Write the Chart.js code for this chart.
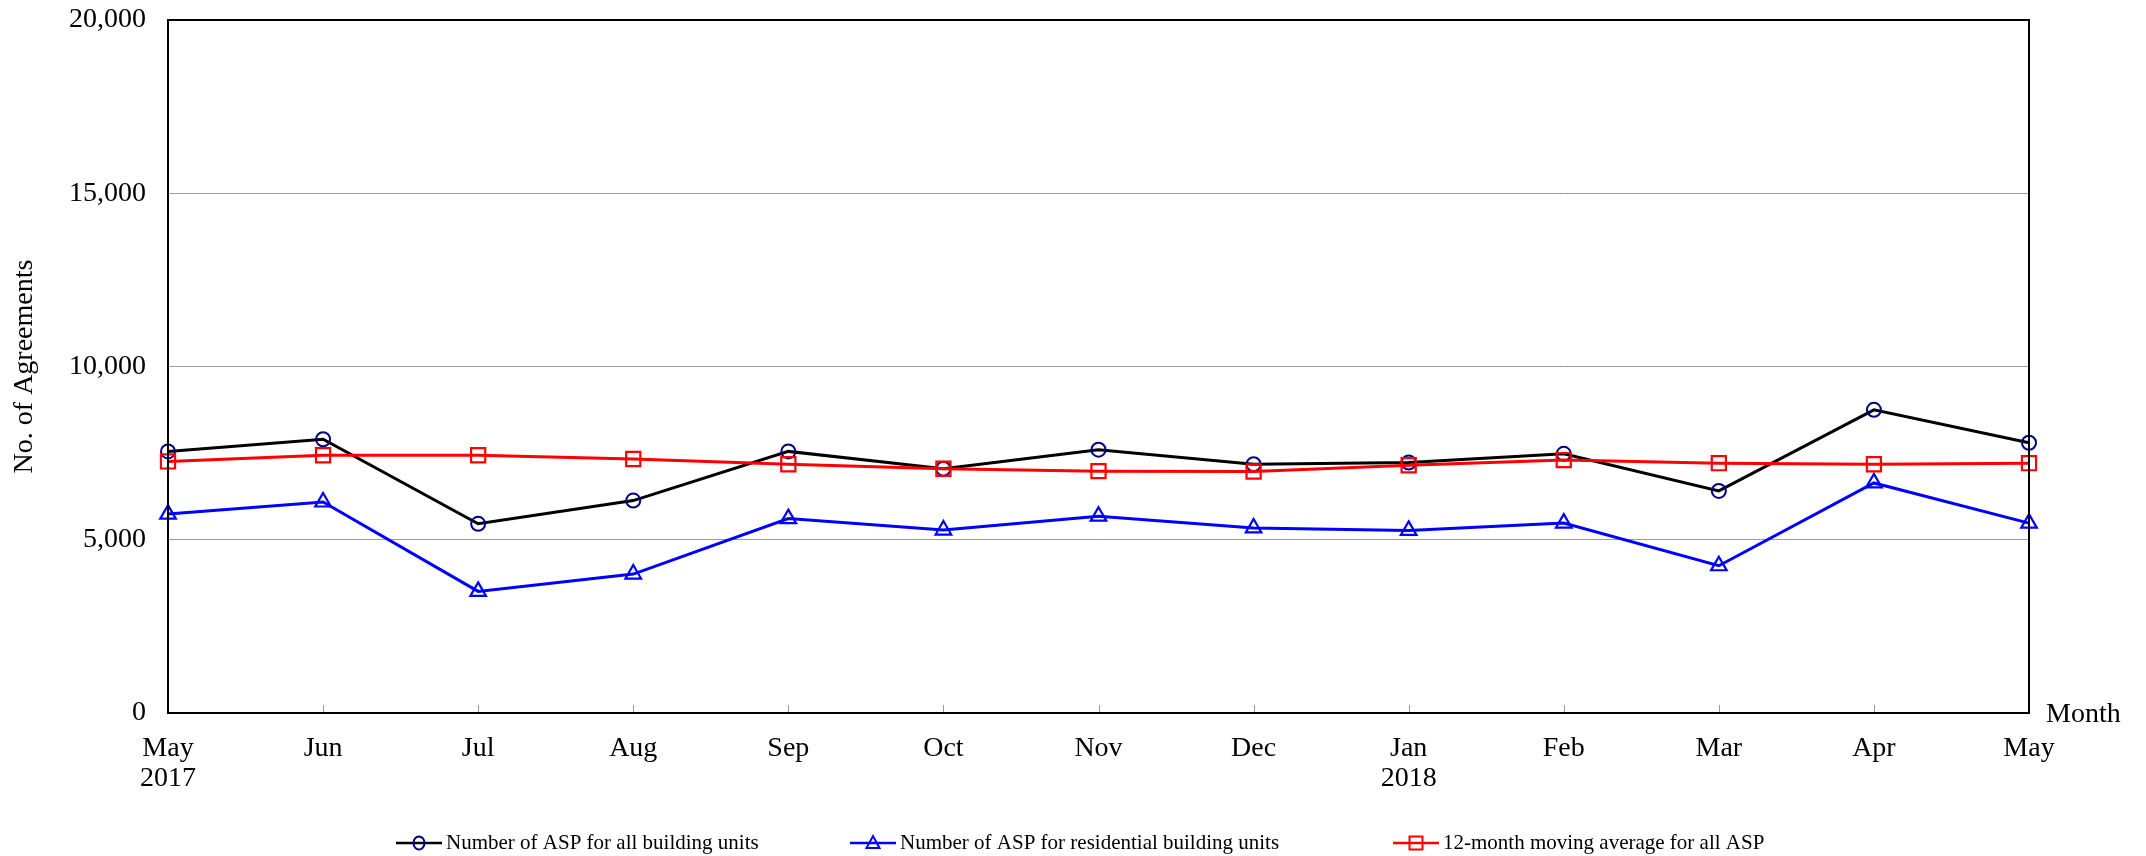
<!DOCTYPE html>
<html>
<head>
<meta charset="utf-8">
<script src="https://cdn.jsdelivr.net/npm/chart.js@4.4.1/dist/chart.umd.min.js"></script>
<style>
  html, body { margin: 0; padding: 0; background: #fff; }
  #wrap { width: 2146px; height: 856px; position: relative; }
</style>
</head>
<body>
<div id="wrap"><canvas id="chart"></canvas></div>
<script>
const months = [['May', '2017'], 'Jun', 'Jul', 'Aug', 'Sep', 'Oct', 'Nov', 'Dec', ['Jan', '2018'], 'Feb', 'Mar', 'Apr', 'May'];
const allUnits = [7550, 7900, 5460, 6130, 7550, 7050, 7600, 7180, 7230, 7480, 6410, 8750, 7800];
const residentialUnits = [5740, 6090, 3510, 4010, 5610, 5280, 5680, 5340, 5270, 5480, 4250, 6640, 5480];
const movingAverage = [7260, 7440, 7440, 7330, 7180, 7050, 6980, 6970, 7150, 7300, 7210, 7180, 7210];
const seriesNames = [
  'Number of ASP for all building units',
  'Number of ASP for residential building units',
  '12-month moving average for all ASP'
];
const legendX = [396, 850, 1393];

const FONT = '"Liberation Serif", "Times New Roman", serif';

// frame, inward x ticks, "Month" and the legend row
const framePlugin = {
  id: 'frame',
  beforeDatasetsDraw(chart) {
    const { ctx, chartArea: a, scales: { x } } = chart;
    ctx.save();
    ctx.strokeStyle = '#9a9a9a';
    ctx.lineWidth = 1;
    for (let i = 1; i < months.length - 1; i++) {
      const px = Math.round(x.getPixelForTick(i)) + 0.5;
      ctx.beginPath();
      ctx.moveTo(px, a.bottom);
      ctx.lineTo(px, a.bottom - 8);
      ctx.stroke();
    }
    ctx.restore();
  },
  afterDraw(chart) {
    const { ctx, chartArea: a } = chart;
    ctx.save();
    ctx.strokeStyle = '#000';
    ctx.lineWidth = 2;
    ctx.strokeRect(a.left, a.top, a.right - a.left, a.bottom - a.top);

    ctx.fillStyle = '#000';
    ctx.font = '28px ' + FONT;
    ctx.textAlign = 'left';
    ctx.textBaseline = 'middle';
    ctx.fillText('Month', a.right + 17, a.bottom + 2);

    const y = 843;
    ctx.font = '21px ' + FONT;
    chart.data.datasets.forEach((ds, i) => {
      const lx = legendX[i];
      ctx.strokeStyle = ds.borderColor;
      ctx.lineWidth = 2.5;
      ctx.beginPath();
      ctx.moveTo(lx, y);
      ctx.lineTo(lx + 46, y);
      ctx.stroke();
      const cx = lx + 23;
      ctx.strokeStyle = ds.pointBorderColor;
      ctx.lineWidth = 2;
      ctx.beginPath();
      if (ds.pointStyle === 'circle') {
        ctx.ellipse(cx, y, 5.5, 6.5, 0, 0, Math.PI * 2);
      } else if (ds.pointStyle === 'triangle') {
        ctx.moveTo(cx, y - 7);
        ctx.lineTo(cx + 6.5, y + 5);
        ctx.lineTo(cx - 6.5, y + 5);
        ctx.closePath();
      } else {
        ctx.rect(cx - 6.5, y - 6.5, 13, 13);
      }
      ctx.stroke();
      ctx.fillStyle = '#000';
      ctx.fillText(ds.label, lx + 50, y);
    });
    ctx.restore();
  }
};

new Chart(document.getElementById('chart'), {
  type: 'line',
  data: {
    labels: months,
    datasets: [
      {
        label: seriesNames[0],
        data: allUnits,
        borderColor: '#000000',
        borderWidth: 3,
        pointStyle: 'circle',
        pointRadius: 7,
        pointBorderColor: '#000080',
        pointBackgroundColor: 'rgba(0,0,0,0)',
        pointBorderWidth: 2,
        order: 1
      },
      {
        label: seriesNames[1],
        data: residentialUnits,
        borderColor: '#0000ff',
        borderWidth: 3,
        pointStyle: 'triangle',
        pointRadius: 9,
        pointBorderColor: '#0000ff',
        pointBackgroundColor: 'rgba(0,0,0,0)',
        pointBorderWidth: 2.2,
        order: 2
      },
      {
        label: seriesNames[2],
        data: movingAverage,
        borderColor: '#ff0000',
        borderWidth: 3,
        pointStyle: 'rect',
        pointRadius: 10,
        pointBorderColor: '#ff0000',
        pointBackgroundColor: 'rgba(0,0,0,0)',
        pointBorderWidth: 2.2,
        order: 0
      }
    ]
  },
  options: {
    responsive: true,
    maintainAspectRatio: false,
    animation: false,
    layout: { padding: { left: 0, right: 117, top: 20, bottom: 63 } },
    plugins: {
      legend: { display: false },
      tooltip: { enabled: false }
    },
    scales: {
      x: {
        offset: false,
        grid: { display: false, drawTicks: false },
        border: { display: false },
        ticks: {
          color: '#000',
          font: { family: FONT, size: 28, lineHeight: 1.07 },
          padding: 21,
          maxRotation: 0,
          autoSkip: false
        },
        afterFit(scale) { scale.height = 80; }
      },
      y: {
        min: 0,
        max: 20000,
        grid: { color: '#9c9c9c', lineWidth: 1, drawTicks: false },
        border: { display: false },
        ticks: {
          stepSize: 5000,
          color: '#000',
          font: { family: FONT, size: 28 },
          padding: 22,
          callback: v => v.toLocaleString('en-US')
        },
        title: {
          display: true,
          text: 'No. of Agreements',
          color: '#000',
          font: { family: FONT, size: 28 },
          padding: { top: 8, bottom: 0 }
        },
        afterFit(scale) {
          scale.width = 168;
          scale.paddingTop = 0;
          scale.paddingBottom = 0;
        }
      }
    }
  },
  plugins: [framePlugin]
});
</script>
</body>
</html>
